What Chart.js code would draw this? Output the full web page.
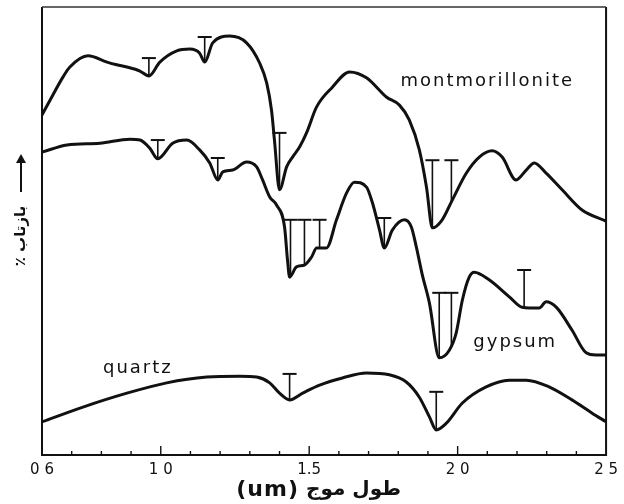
<!DOCTYPE html>
<html>
<head>
<meta charset="utf-8">
<script src="https://cdn.jsdelivr.net/npm/chart.js@4.4.1/dist/chart.umd.min.js"></script>
<style>
  html, body { margin: 0; padding: 0; background: #fff; }
  #wrap { width: 624px; height: 504px; }
</style>
</head>
<body>
<div id="wrap"><canvas id="c" width="624" height="504"></canvas></div>
<script>
// Wavelength (um) and relative reflectance readings for each mineral
const montWave = [0.600,0.627,0.671,0.694,0.755,0.819,0.852,0.886,0.930,0.960,0.997,1.054,1.098,1.131,1.148,1.175,1.232,1.289,1.333,1.357,1.373,1.383,1.400,1.424,1.444,1.468,1.491,1.525,1.578,1.636,1.693,1.760,1.804,1.837,1.871,1.895,1.915,1.948,1.982,2.029,2.073,2.116,2.150,2.197,2.231,2.258,2.298,2.352,2.419,2.500];
const montRefl = [75.9,79.2,84.4,86.6,89.1,87.7,87.1,86.6,85.7,84.6,87.7,90.2,90.6,89.7,87.7,92.0,93.5,92.0,87.5,83.0,77.0,70.3,59.2,64.3,66.5,68.8,71.9,77.7,82.1,85.5,84.2,79.9,78.1,74.8,68.1,59.8,50.7,52.5,56.9,62.9,66.5,67.9,66.5,61.4,63.6,65.2,62.9,59.2,54.7,52.2];

const gypWave = [0.600,0.684,0.795,0.896,0.930,0.963,0.990,1.040,1.088,1.131,1.165,1.192,1.209,1.242,1.289,1.323,1.343,1.367,1.390,1.417,1.427,1.434,1.457,1.484,1.508,1.525,1.558,1.592,1.626,1.652,1.693,1.713,1.737,1.753,1.780,1.821,1.844,1.861,1.881,1.905,1.938,1.972,1.995,2.016,2.039,2.056,2.106,2.174,2.217,2.275,2.298,2.332,2.385,2.433,2.466,2.500];
const gypRefl = [67.6,69.2,69.6,70.5,70.3,68.5,66.1,69.6,70.3,68.1,65.2,61.4,63.2,63.6,65.4,64.3,61.4,57.6,55.8,50.9,43.5,39.7,42.0,42.4,44.2,46.2,46.2,52.5,58.5,60.9,59.8,56.3,50.2,46.2,50.2,52.5,50.9,46.4,40.2,33.9,21.7,23.4,27.2,34.6,39.7,40.8,39.1,35.3,33.0,32.8,34.2,33.0,27.9,22.8,22.3,22.3];

const qtzWave = [0.600,0.738,0.886,1.020,1.155,1.266,1.323,1.367,1.400,1.434,1.478,1.535,1.612,1.693,1.770,1.827,1.871,1.905,1.928,1.962,2.016,2.096,2.174,2.231,2.308,2.385,2.452,2.500];
const qtzRefl = [7.4,10.7,13.8,16.1,17.4,17.6,17.4,16.1,13.8,12.3,13.8,15.6,17.2,18.3,17.9,16.3,12.9,8.5,5.6,7.1,11.6,15.2,16.7,16.7,15.2,12.3,9.4,7.4];

// Absorption-band markers: wavelength, band floor, marker top
const montBandWave = [0.960,1.148,1.400,1.915,1.979];
const montBandBase = [84.6,87.7,59.2,50.7,56.5];
const montBandTop  = [88.6,93.3,71.9,65.8,65.8];

const gypBandWave = [0.990,1.192,1.437,1.484,1.535,1.753,1.938,1.979,2.224];
const gypBandBase = [66.1,61.4,39.9,42.4,46.2,46.2,21.7,24.5,32.9];
const gypBandTop  = [70.3,66.3,52.5,52.5,52.5,52.9,36.2,36.2,41.3];

const qtzBandWave = [1.434,1.928];
const qtzBandBase = [12.3,5.6];
const qtzBandTop  = [18.1,14.1];

// Axis ticks
const tickValues = [0.6,1.0,1.5,2.0,2.5];
const tickLabels = ['0 6','1 0','1.5','2 0','2 5'];

const seriesNames = ['montmorillonite','gypsum','quartz'];

const INK = '#111';

function toPoints(xs, ys) {
  return xs.map((x, i) => ({ x: x, y: ys[i] }));
}

function bandPoints(xs, base, top) {
  const pts = [];
  xs.forEach((x, i) => {
    pts.push({ x: x, y: base[i], cap: false });
    pts.push({ x: x, y: top[i], cap: true });
    pts.push({ x: x, y: null, cap: false });
  });
  return pts;
}

function curve(label, xs, ys) {
  return {
    label: label,
    data: toPoints(xs, ys),
    borderColor: INK,
    borderWidth: 3,
    pointRadius: 0,
    cubicInterpolationMode: 'monotone',
    fill: false
  };
}

function bands(label, xs, base, top) {
  return {
    label: label,
    data: bandPoints(xs, base, top),
    borderColor: INK,
    borderWidth: 1.6,
    spanGaps: false,
    tension: 0,
    pointStyle: 'line',
    pointRadius: (c) => (c.raw && c.raw.cap ? 7 : 0),
    pointHoverRadius: 0,
    pointBorderColor: INK,
    pointBorderWidth: 2
  };
}

// Frame, inward tick marks and text decorations
const decorations = {
  id: 'decorations',
  beforeDatasetsDraw(chart) {
    const { ctx, chartArea: a, scales } = chart;
    const xs = scales.x;
    ctx.save();
    ctx.strokeStyle = INK;
    ctx.lineWidth = 2;
    ctx.beginPath();
    ctx.moveTo(a.left, a.top);
    ctx.lineTo(a.left, a.bottom);
    ctx.lineTo(a.right, a.bottom);
    ctx.lineTo(a.right, a.top);
    ctx.stroke();
    ctx.lineWidth = 1.5;
    ctx.strokeStyle = '#333';
    ctx.beginPath();
    ctx.moveTo(a.left, a.top);
    ctx.lineTo(a.right, a.top);
    ctx.stroke();
    ctx.strokeStyle = INK;
    ctx.lineWidth = 1.4;
    for (let i = 7; i < 25; i++) {
      const v = i / 10;
      const px = xs.getPixelForValue(v);
      const len = (i % 5 === 0) ? 9 : 4;
      ctx.beginPath();
      ctx.moveTo(px, a.bottom);
      ctx.lineTo(px, a.bottom - len);
      ctx.stroke();
    }
    ctx.restore();
  },
  afterDraw(chart, args, opts) {
    const { ctx, scales } = chart;
    ctx.save();
    ctx.fillStyle = INK;
    // series names
    ctx.font = '18px "DejaVu Sans"';
    ctx.letterSpacing = '2px';
    ctx.textAlign = 'center';
    ctx.textBaseline = 'middle';
    opts.names.forEach((n) => {
      ctx.fillText(n.text, scales.x.getPixelForValue(n.x), scales.y.getPixelForValue(n.y));
    });

    // x axis title
    const cy = 490;
    ctx.letterSpacing = '0px';
    ctx.font = 'bold 20px "DejaVu Sans"';
    ctx.textAlign = 'left';
    ctx.fillText('طول موج', 306, cy);
    ctx.font = 'bold 22px "DejaVu Sans"';
    ctx.letterSpacing = '1px';
    ctx.textAlign = 'right';
    ctx.fillText('(um)', 299, cy);
    ctx.letterSpacing = '0px';

    // y axis title with arrow
    ctx.translate(21, 0);
    ctx.rotate(-Math.PI / 2);
    ctx.font = 'bold 15px "DejaVu Sans"';
    ctx.textAlign = 'center';
    ctx.fillText('٪ بازتاب', -236, 0);
    ctx.lineWidth = 2;
    ctx.strokeStyle = INK;
    ctx.beginPath();
    ctx.moveTo(-192, 0);
    ctx.lineTo(-156, 0);
    ctx.stroke();
    ctx.beginPath();
    ctx.moveTo(-154, 0);
    ctx.lineTo(-163, -5);
    ctx.lineTo(-163, 5);
    ctx.closePath();
    ctx.fill();
    ctx.restore();
  }
};

new Chart(document.getElementById('c'), {
  type: 'line',
  data: {
    datasets: [
      curve(seriesNames[0], montWave, montRefl),
      curve(seriesNames[1], gypWave, gypRefl),
      curve(seriesNames[2], qtzWave, qtzRefl),
      bands(seriesNames[0] + ' bands', montBandWave, montBandBase, montBandTop),
      bands(seriesNames[1] + ' bands', gypBandWave, gypBandBase, gypBandTop),
      bands(seriesNames[2] + ' bands', qtzBandWave, qtzBandBase, qtzBandTop)
    ]
  },
  options: {
    responsive: false,
    animation: false,
    devicePixelRatio: 1,
    layout: { padding: { left: 42, right: 17, top: 7, bottom: 0 } },
    plugins: {
      legend: { display: false },
      tooltip: { enabled: false },
      decorations: {
        names: [
          { text: seriesNames[0], x: 2.10, y: 83.3 },
          { text: seriesNames[1], x: 2.194, y: 25.2 },
          { text: seriesNames[2], x: 0.923, y: 19.4 }
        ]
      }
    },
    scales: {
      x: {
        type: 'linear',
        min: 0.6,
        max: 2.5,
        afterFit: (s) => { s.height = 49; },
        afterBuildTicks: (s) => { s.ticks = tickValues.map((v) => ({ value: v })); },
        grid: { display: false, drawTicks: false },
        border: { display: false },
        ticks: {
          autoSkip: false,
          maxRotation: 0,
          padding: 6,
          color: INK,
          font: { family: 'DejaVu Sans', size: 15 },
          callback: (v, i) => tickLabels[i]
        }
      },
      y: {
        display: false,
        min: 0,
        max: 100
      }
    }
  },
  plugins: [decorations]
});
</script>
</body>
</html>
